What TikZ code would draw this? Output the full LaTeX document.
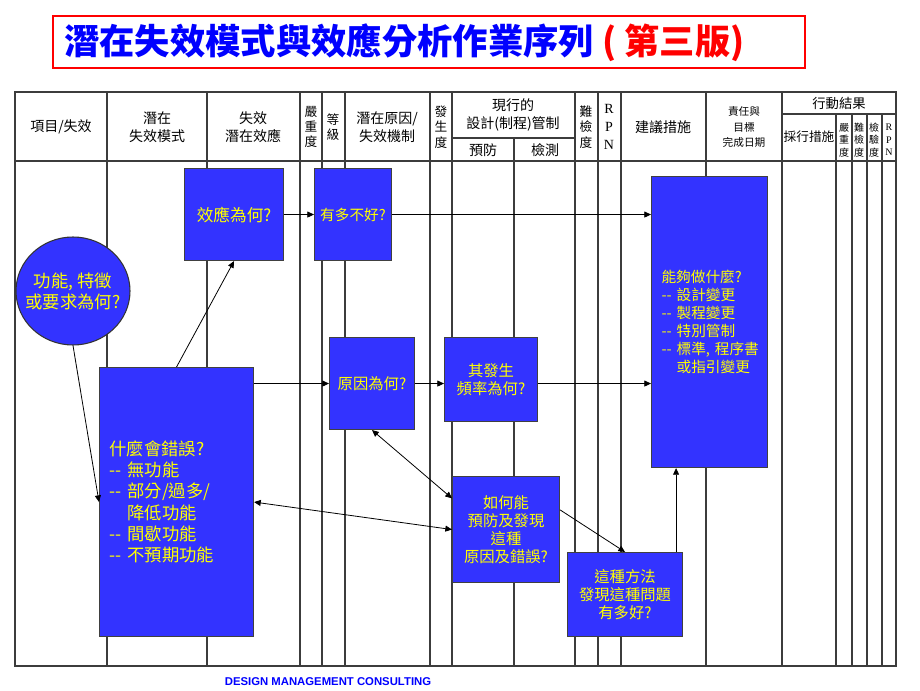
\documentclass[tikz,border=0pt]{standalone}
\usepackage{fontspec}
\setmainfont{Noto Sans CJK TC}
\newfontfamily\rpnfont{Liberation Serif}
\newfontfamily\footfont{Liberation Sans}
\usetikzlibrary{arrows.meta,shapes.geometric}
\definecolor{BoxBlue}{RGB}{51,51,255}
\definecolor{BoxText}{RGB}{255,255,0}
\definecolor{GridGray}{RGB}{60,60,60}

\tikzset{
  qbox/.style={draw=black!75, line width=0.8pt, fill=BoxBlue, text=BoxText, inner sep=0pt, align=center, anchor=north west, font=\fontsize{11.5}{13.5}\selectfont},
  tline/.style={color=GridGray, line width=1pt},
  arr/.style={-{Triangle[length=5pt,width=4.5pt]}, line width=0.6pt},
  darr/.style={{Triangle[length=5pt,width=4.5pt]}-{Triangle[length=5pt,width=4.5pt]}, line width=0.6pt},
  hd/.style={align=center, inner sep=0pt, font=\fontsize{10.5}{13.5}\selectfont},
  hdv/.style={align=center, inner sep=0pt, font=\fontsize{9.5}{11.5}\selectfont},
  hds/.style={align=center, inner sep=0pt, font=\fontsize{7.5}{9.4}\selectfont},
}

\begin{document}
\begin{tikzpicture}[x=0.75pt,y=0.75pt,yscale=-1,xscale=1]
\useasboundingbox (0,0) rectangle (920,690);

% Title
\draw [color=red, line width=0.8pt] (53,16) rectangle (805,68);
\node [anchor=west, inner sep=0pt, font=\fontsize{26.5}{30}\selectfont\bfseries] (title) at (64,43) {\textcolor{blue}{潛在失效模式與效應分析作業序列} \textcolor{red}{( 第三版)}};

% Table frame
\draw [tline] (15,92) rectangle (896,666);
\draw [tline, line width=1.6pt] (15,161) -- (896,161);
\foreach \x in {107,207,300,322,345,430,452,575,598,621,706,782}
  \draw [tline] (\x,92) -- (\x,666);
\draw [tline] (452,138) -- (575,138);
\draw [tline] (514,138) -- (514,666);
\draw [tline] (782,114) -- (896,114);
\foreach \x in {836,852,867,882}
  \draw [tline] (\x,114) -- (\x,666);

% Header texts
\node [hd] (hItem) at (61,127) {項目/失效};
\node [hd] (hMode) at (157,127) {潛在\\失效模式};
\node [hd] (hEffect) at (253,127) {失效\\潛在效應};
\node [hdv] (hSev) at (311,127) {嚴\\重\\度};
\node [hdv] (hClass) at (333,127) {等\\級};
\node [hd] (hCause) at (387,127) {潛在原因/\\失效機制};
\node [hdv] (hOcc) at (441,127) {發\\生\\度};
\node [hd] (hCtrl) at (513,115) {現行的\\設計(制程)管制};
\node [hd] (hPrev) at (483,150) {預防};
\node [hd] (hDet) at (545,150) {檢測};
\node [hdv] (hDetR) at (586,127) {難\\檢\\度};
\node [hd, font=\rpnfont\fontsize{10.5}{13.5}\selectfont] (hRpn) at (609,127) {R\\P\\N};
\node [hd] (hRec) at (663,127) {建議措施};
\node [hd, font=\fontsize{8}{11.5}\selectfont] (hResp) at (744,127) {責任與\\目標\\完成日期};
\node [hd, font=\fontsize{10}{12}\selectfont] (hResult) at (839,103) {行動結果};
\node [hd, font=\fontsize{9.5}{12}\selectfont] (hTaken) at (809,137) {採行措施};
\node [hds] (hSev2) at (844,140) {嚴\\重\\度};
\node [hds] (hDet2) at (859,140) {難\\檢\\度};
\node [hds] (hChk2) at (874,140) {檢\\驗\\度};
\node [hds, font=\rpnfont\fontsize{7.5}{9.4}\selectfont] (hRpn2) at (889,140) {R\\P\\N};

% Question boxes
\node [qbox, minimum width=74.25pt, minimum height=69pt, font=\fontsize{12.5}{14}\selectfont] (eff) at (184,168) {效應為何?};
\node [qbox, minimum width=57.75pt, minimum height=69pt, font=\fontsize{11}{13.5}\selectfont] (sev) at (314,168) {有多不好?};
\node [draw=black!80, line width=0.8pt, fill=BoxBlue, text=BoxText, ellipse, minimum width=85.5pt, minimum height=81pt, inner sep=-12pt, align=center, font=\fontsize{13}{15.75}\selectfont] (func) at (73,291) {功能, 特徵\\或要求為何?};
\node [qbox, minimum width=115.5pt, minimum height=201.75pt, text width=100.5pt, align=left, font=\fontsize{13}{16}\selectfont] (err) at (99,367) {什麼會錯誤?\\\mbox{-{}-~無功能}\\\mbox{-{}-~部分/過多/}\\\hphantom{-{}-}\ 降低功能\\\mbox{-{}-~間歇功能}\\\mbox{-{}-~不預期功能}};
\node [qbox, minimum width=63.75pt, minimum height=69pt] (cause) at (329,337) {原因為何?};
\node [qbox, minimum width=69.75pt, minimum height=63pt] (freq) at (444,337) {其發生\\頻率為何?};
\node [qbox, minimum width=80.25pt, minimum height=79.5pt] (prev) at (452,476) {如何能\\預防及發現\\這種\\原因及錯誤?};
\node [qbox, minimum width=86.25pt, minimum height=63pt] (how) at (567,552) {這種方法\\發現這種問題\\有多好?};
\node [qbox, minimum width=87pt, minimum height=218.25pt, text width=72pt, align=left, font=\fontsize{11}{13.5}\selectfont] (act) at (651,176) {能夠做什麼?\\\mbox{-{}-~設計變更}\\\mbox{-{}-~製程變更}\\\mbox{-{}-~特別管制}\\\mbox{-{}-~標準,~程序書}\\\hphantom{-{}-}\ 或指引變更};

% Connectors
\draw [arr] (eff.east) -- (sev.west);
\draw [arr] (sev.east) -- (sev.east -| act.west);
\draw [arr] (err.north) -- (eff.south);
\draw [arr] (func.south) -- (err.west);
\draw [arr] (err.east |- cause.west) -- (cause.west);
\draw [arr] (cause.east) -- (cause.east -| freq.west);
\draw [arr] (cause.east -| freq.east) -- (cause.east -| act.west);
\draw [darr] (cause.south) -- (prev.150);
\draw [darr] (err.east) -- (prev.west);
\draw [arr] (prev.20) -- (how.north);
\coordinate (up) at ([xshift=-5.25pt]how.north east);
\draw [arr] (up) -- (up |- act.south);

% Footer
\node [inner sep=0pt, text=blue, font=\footfont\fontsize{8.5}{10}\selectfont\bfseries] (foot) at (328,682) {DESIGN MANAGEMENT CONSULTING};

\end{tikzpicture}
\end{document}
